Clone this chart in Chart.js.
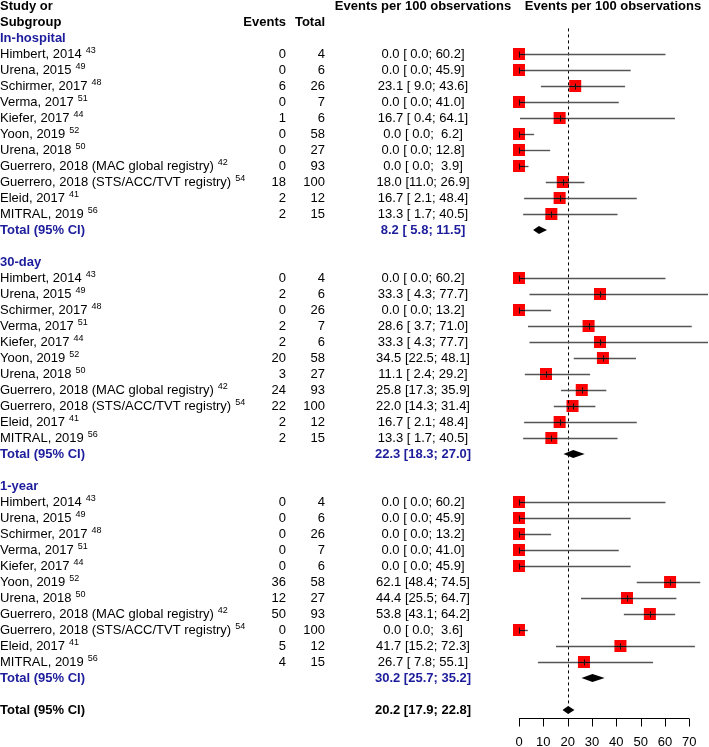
<!DOCTYPE html>
<html>
<head>
<meta charset="utf-8">
<script src="https://cdn.jsdelivr.net/npm/chart.js@4"></script>
<style>
  body { margin: 0; background: #fff; }
  #wrap { width: 709px; height: 747px; }
</style>
</head>
<body>
<div id="wrap"><canvas id="forest" width="709" height="747"></canvas></div>
<script>
const groups = ['In-hospital', '30-day', '1-year'];
const studies = ['Himbert, 2014', 'Urena, 2015', 'Schirmer, 2017', 'Verma, 2017', 'Kiefer, 2017', 'Yoon, 2019',
  'Urena, 2018', 'Guerrero, 2018 (MAC global registry)', 'Guerrero, 2018 (STS/ACC/TVT registry)', 'Eleid, 2017', 'MITRAL, 2019'];
const refs = ['43', '49', '48', '51', '44', '52', '50', '42', '54', '41', '56'];
const totals = [4, 6, 26, 7, 6, 58, 27, 93, 100, 12, 15];

const inHospEvents = [0, 0, 6, 0, 1, 0, 0, 0, 18, 2, 2];
const inHospEst = [0, 0, 23.1, 0, 16.7, 0, 0, 0, 18.0, 16.7, 13.3];
const inHospLo = [0, 0, 9.0, 0, 0.4, 0, 0, 0, 11.0, 2.1, 1.7];
const inHospHi = [60.2, 45.9, 43.6, 41.0, 64.1, 6.2, 12.8, 3.9, 26.9, 48.4, 40.5];

const day30Events = [0, 2, 0, 2, 2, 20, 3, 24, 22, 2, 2];
const day30Est = [0, 33.3, 0, 28.6, 33.3, 34.5, 11.1, 25.8, 22.0, 16.7, 13.3];
const day30Lo = [0, 4.3, 0, 3.7, 4.3, 22.5, 2.4, 17.3, 14.3, 2.1, 1.7];
const day30Hi = [60.2, 77.7, 13.2, 71.0, 77.7, 48.1, 29.2, 35.9, 31.4, 48.4, 40.5];

const year1Events = [0, 0, 0, 0, 0, 36, 12, 50, 0, 5, 4];
const year1Est = [0, 0, 0, 0, 0, 62.1, 44.4, 53.8, 0, 41.7, 26.7];
const year1Lo = [0, 0, 0, 0, 0, 48.4, 25.5, 43.1, 0, 15.2, 7.8];
const year1Hi = [60.2, 45.9, 13.2, 41.0, 45.9, 74.5, 64.7, 64.2, 3.6, 72.3, 55.1];

const sumEst = [8.2, 22.3, 30.2];
const sumLo = [5.8, 18.3, 25.7];
const sumHi = [11.5, 27.0, 35.2];

const overallEst = 20.2, overallLo = 17.9, overallHi = 22.8;
const xTicks = [0, 10, 20, 30, 40, 50, 60, 70];

const BLUE = '#1c1c9c';
const FONT = '"Liberation Sans", Arial, sans-serif';

const groupData = [
  { events: inHospEvents, est: inHospEst, lo: inHospLo, hi: inHospHi },
  { events: day30Events, est: day30Est, lo: day30Lo, hi: day30Hi },
  { events: year1Events, est: year1Est, lo: year1Lo, hi: year1Hi }
];

// build rows: each group = header, 11 studies, total, blank
const studyRows = [];
const summaryRows = [];
groupData.forEach((g, gi) => {
  const base = 2 + gi * 14;
  studies.forEach((s, i) => {
    studyRows.push({ row: base + 1 + i, name: s, ref: refs[i], ev: g.events[i], n: totals[i],
      est: g.est[i], lo: g.lo[i], hi: g.hi[i] });
  });
  summaryRows.push({ row: base + 12, head: base, label: groups[gi], est: sumEst[gi], lo: sumLo[gi], hi: sumHi[gi], blue: true });
});
summaryRows.push({ row: 44, label: null, est: overallEst, lo: overallLo, hi: overallHi, blue: false });

const f1 = v => v.toFixed(1);
const fmtCI = (e, l, h) => `${f1(e)} [${f1(l).padStart(4, ' ')}; ${f1(h).padStart(4, ' ')}]`;

const forestPlugin = {
  id: 'forest',
  afterDatasetsDraw(chart) {
    const { ctx, scales: { x, y } } = chart;
    ctx.save();

    // reference line
    ctx.strokeStyle = '#000';
    ctx.lineWidth = 1;
    ctx.setLineDash([3, 3]);
    ctx.beginPath();
    ctx.moveTo(Math.round(x.getPixelForValue(overallEst)) + 0.5, y.getPixelForValue(1.4));
    ctx.lineTo(Math.round(x.getPixelForValue(overallEst)) + 0.5, y.getPixelForValue(44.2));
    ctx.stroke();
    ctx.setLineDash([]);

    // CI lines
    studyRows.forEach(r => {
      const py = Math.round(y.getPixelForValue(r.row)) + 0.5;
      const px = x.getPixelForValue(r.est);
      ctx.strokeStyle = '#555';
      ctx.lineWidth = 1.4;
      ctx.beginPath();
      ctx.moveTo(x.getPixelForValue(r.lo), py);
      ctx.lineTo(x.getPixelForValue(r.hi), py);
      ctx.stroke();
      ctx.strokeStyle = '#111';
      ctx.lineWidth = 1;
      ctx.beginPath();
      ctx.moveTo(Math.max(px - 6, x.getPixelForValue(r.lo)), py);
      ctx.lineTo(Math.min(px + 6, x.getPixelForValue(r.hi)), py);
      ctx.moveTo(Math.round(px) + 0.5, py - 3);
      ctx.lineTo(Math.round(px) + 0.5, py + 3);
      ctx.stroke();
    });

    // diamonds
    ctx.fillStyle = '#000';
    summaryRows.forEach(r => {
      const py = y.getPixelForValue(r.row);
      ctx.beginPath();
      ctx.moveTo(x.getPixelForValue(r.lo), py);
      ctx.lineTo(x.getPixelForValue(r.est), py - 4);
      ctx.lineTo(x.getPixelForValue(r.hi), py);
      ctx.lineTo(x.getPixelForValue(r.est), py + 4);
      ctx.closePath();
      ctx.fill();
    });

    // axis
    const ay = Math.round(chart.chartArea.bottom) + 0.5;
    ctx.strokeStyle = '#000';
    ctx.lineWidth = 1;
    ctx.beginPath();
    ctx.moveTo(x.getPixelForValue(xTicks[0]), ay);
    ctx.lineTo(x.getPixelForValue(xTicks[xTicks.length - 1]), ay);
    xTicks.forEach(t => {
      const tx = Math.round(x.getPixelForValue(t)) + 0.5;
      ctx.moveTo(tx, ay);
      ctx.lineTo(tx, ay + 8);
    });
    ctx.stroke();
    ctx.fillStyle = '#000';
    ctx.font = `13px ${FONT}`;
    ctx.textAlign = 'center';
    ctx.textBaseline = 'middle';
    xTicks.forEach(t => ctx.fillText(String(t), x.getPixelForValue(t), ay + 24));

    // text columns
    const EV_X = 286, TOT_X = 325, CI_X = 423, HEAD2_X = 613;
    const rowY = r => y.getPixelForValue(r);
    ctx.textBaseline = 'middle';
    ctx.fillStyle = '#000';
    ctx.font = `bold 13px ${FONT}`;
    ctx.textAlign = 'left';
    ctx.fillText('Study or', 0, rowY(0));
    ctx.fillText('Subgroup', 0, rowY(1));
    ctx.textAlign = 'right';
    ctx.fillText('Events', EV_X, rowY(1));
    ctx.fillText('Total', TOT_X, rowY(1));
    ctx.textAlign = 'center';
    ctx.fillText('Events per 100 observations', CI_X, rowY(0));
    ctx.fillText('Events per 100 observations', HEAD2_X, rowY(0));

    studyRows.forEach(r => {
      const py = rowY(r.row);
      ctx.fillStyle = '#000';
      ctx.font = `13px ${FONT}`;
      ctx.textAlign = 'left';
      ctx.fillText(r.name, 0, py);
      const w = ctx.measureText(r.name).width;
      ctx.textAlign = 'right';
      ctx.fillText(String(r.ev), EV_X, py);
      ctx.fillText(String(r.n), TOT_X, py);
      ctx.textAlign = 'center';
      ctx.fillText(fmtCI(r.est, r.lo, r.hi), CI_X, py);
      ctx.font = `9px ${FONT}`;
      ctx.textAlign = 'left';
      ctx.fillText(r.ref, w + 4, py - 3.5);
    });

    summaryRows.forEach(r => {
      ctx.font = `bold 13px ${FONT}`;
      ctx.fillStyle = r.blue ? BLUE : '#000';
      if (r.label) {
        ctx.textAlign = 'left';
        ctx.fillText(r.label, 0, rowY(r.head));
      }
      ctx.textAlign = 'left';
      ctx.fillText('Total (95% CI)', 0, rowY(r.row));
      ctx.textAlign = 'center';
      ctx.fillText(fmtCI(r.est, r.lo, r.hi), CI_X, rowY(r.row));
    });

    ctx.restore();
  }
};

new Chart(document.getElementById('forest'), {
  type: 'scatter',
  data: {
    datasets: [{
      data: studyRows.map(r => ({ x: r.est, y: r.row })),
      pointStyle: 'rect',
      pointRadius: 8.5,
      pointHoverRadius: 8.5,
      backgroundColor: '#ff0000',
      borderWidth: 0,
      clip: false
    }]
  },
  options: {
    responsive: false,
    devicePixelRatio: 1,
    animation: false,
    events: [],
    layout: { autoPadding: false, padding: { left: 519, right: 0, top: 0, bottom: 29 } },
    plugins: { legend: { display: false }, tooltip: { enabled: false } },
    scales: {
      x: { type: 'linear', min: 0, max: 78.1, display: false },
      y: { type: 'linear', min: -0.375, max: 44.5, reverse: true, display: false }
    }
  },
  plugins: [forestPlugin]
});
</script>
</body>
</html>
